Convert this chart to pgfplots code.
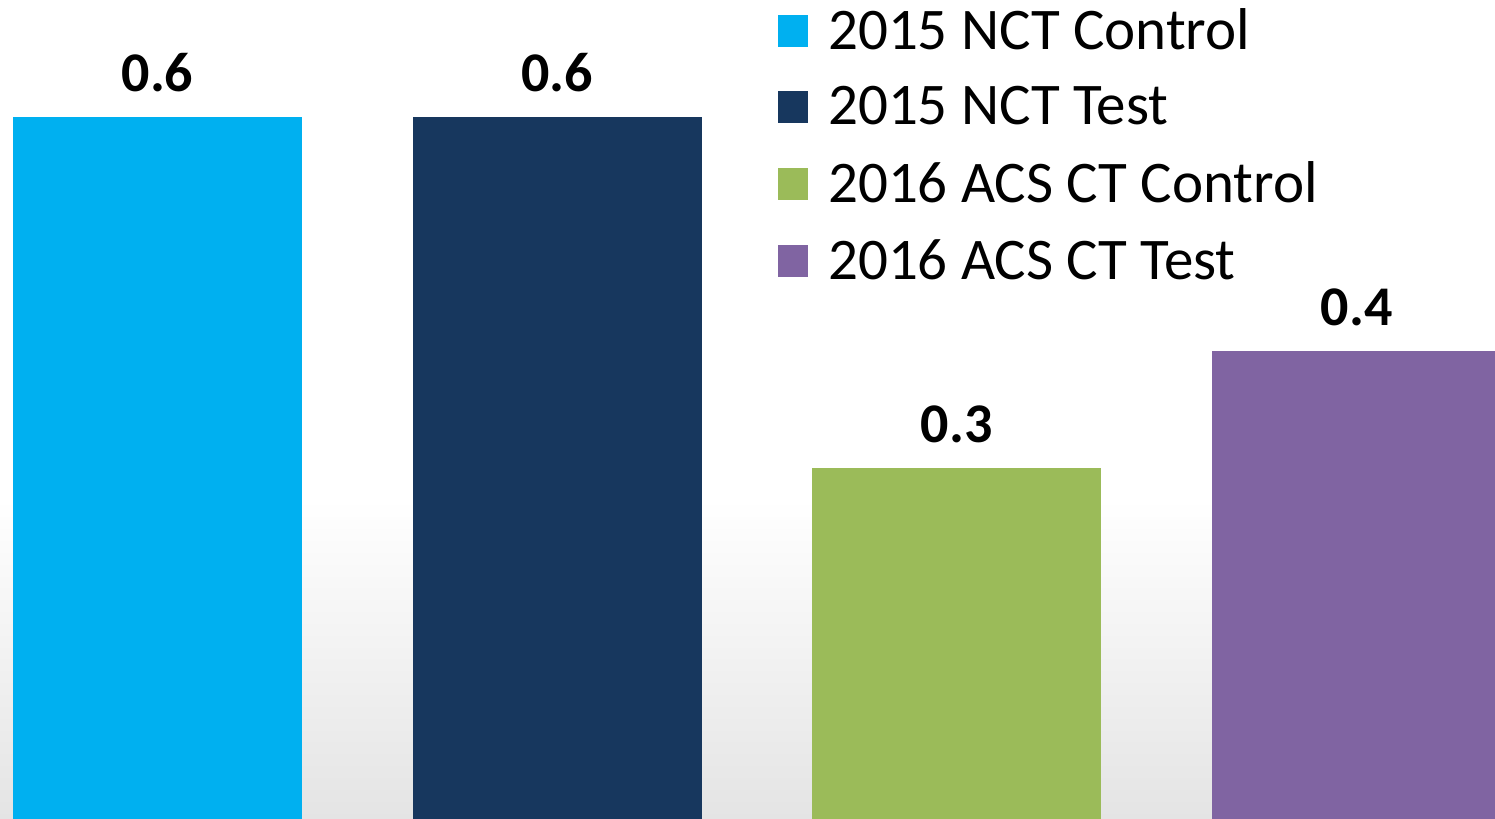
\documentclass[border=0pt]{standalone}
\usepackage{fontspec}
\setmainfont{Carlito}
\usepackage{pgfplots}
\pgfplotsset{compat=1.18}
\definecolor{ncontrol}{HTML}{00B0F0}
\definecolor{ntest}{HTML}{17375E}
\definecolor{acontrol}{HTML}{9BBB59}
\definecolor{atest}{HTML}{8064A2}
\definecolor{bglow}{HTML}{E4E4E4}

\begin{document}
\begin{tikzpicture}
\useasboundingbox (0,0) rectangle (747.5pt,409.5pt);
% background: white with a soft grey fade at the bottom
\fill[white] (0,0) rectangle (747.5pt,409.5pt);
\shade[top color=white, bottom color=bglow] (0,0) rectangle (747.5pt,160pt);
\begin{axis}[
    scale only axis,
    width=747.5pt,
    height=409.5pt,
    hide axis,
    xmin=-0.3941, xmax=3.3465,
    ymin=0, ymax=0.7,
    ybar,
    bar width=144.5pt,
    point meta=explicit symbolic,
    nodes near coords,
    every node near coord/.append style={
        font=\fontsize{28}{34}\selectfont\bfseries,
        anchor=base, yshift=12.5pt, inner sep=0pt, text=black},
    legend cell align=left,
    legend style={
        at={(axis description cs:0.5203,0.99)}, anchor=north west,
        draw=none, fill=none, inner sep=0pt,
        font=\fontsize{29.5}{34}\selectfont,
        row sep=17pt,
        nodes={inner sep=0pt, text=black},
        /tikz/every odd column/.append style={column sep=10pt},
    },
    legend image code/.code={\fill[#1] (0pt,-8pt) rectangle (15pt,8pt);},
]
\addplot[fill=ncontrol, draw=none, bar shift=0pt] coordinates {(0,0.6) [0.6]};
\addplot[fill=ntest, draw=none, bar shift=0pt] coordinates {(1,0.6) [0.6]};
\addplot[fill=acontrol, draw=none, bar shift=0pt] coordinates {(2,0.3) [0.3]};
\addplot[fill=atest, draw=none, bar shift=0pt] coordinates {(3,0.4) [0.4]};
\legend{2015 NCT Control, 2015 NCT Test, 2016 ACS CT Control, 2016 ACS CT Test}
\end{axis}
\end{tikzpicture}
\end{document}
